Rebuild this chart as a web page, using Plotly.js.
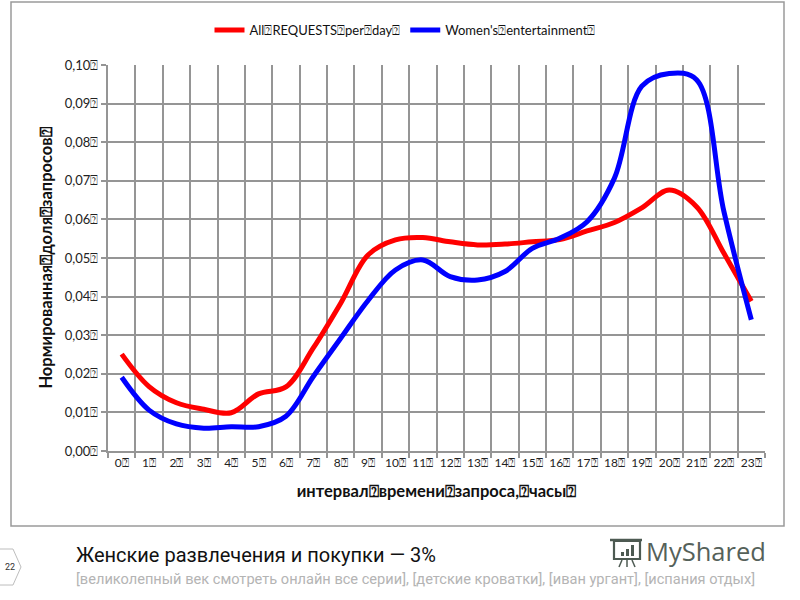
<!DOCTYPE html>
<html>
<head>
<meta charset="utf-8">
<script src="https://cdn.plot.ly/plotly-3.0.1.min.js"></script>
<style>
  html, body { margin: 0; padding: 0; background: #fff; }
  #chart { width: 800px; height: 600px; }
</style>
</head>
<body>
<div id="chart"></div>
<script>
// missing-glyph box as it shows up in the source slide
const Q = "\u2370";

const hours = ["0", "1", "2", "3", "4", "5", "6", "7", "8", "9", "10", "11",
  "12", "13", "14", "15", "16", "17", "18", "19", "20", "21", "22", "23"];
const hourLabels = hours.map((h) => h + Q);

const allRequests = [0.0251, 0.0167, 0.0125, 0.0108, 0.0099, 0.0148, 0.0166, 0.0267,
  0.0383, 0.0508, 0.0547, 0.0553, 0.0542, 0.0534, 0.0536, 0.0542,
  0.0548, 0.0570, 0.0592, 0.0630, 0.0676, 0.0633, 0.0512, 0.0388];

const womenEntertainment = [0.0191, 0.0106, 0.0070, 0.0059, 0.0063, 0.0063, 0.0090, 0.0193,
  0.0292, 0.0390, 0.0469, 0.0495, 0.0452, 0.0443, 0.0465, 0.0525,
  0.0551, 0.0594, 0.0707, 0.0945, 0.0978, 0.0962, 0.0620, 0.0340];

const yTickVals = [0, 0.01, 0.02, 0.03, 0.04, 0.05, 0.06, 0.07, 0.08, 0.09, 0.10];
const yTickText = ["0,00", "0,01", "0,02", "0,03", "0,04", "0,05", "0,06", "0,07", "0,08", "0,09", "0,10"].map((t) => t + Q);

const seriesNames = ["All" + Q + "REQUESTS" + Q + "per" + Q + "day" + Q, "Women's" + Q + "entertainment" + Q];
const xTitle = "интервал" + Q + "времени" + Q + "запроса," + Q + "часы" + Q;
const yTitle = "Нормированная" + Q + "доля" + Q + "запросов" + Q;
const slideTitle = "Женские развлечения и покупки — 3%";
const slideQueries = "[великолепный век смотреть онлайн все серии], [детские кроватки], [иван ургант], [испания отдых]";

// plot area in pixels: x 108..765, y 65..451
const L = 108, R = 765, T = 65, B = 451;
const px = (x) => (x - L) / (R - L);
const py = (y) => (B - y) / (B - T);

const chartFont = "Lato, 'Open Sans', sans-serif";
const narrowFont = "'Liberation Sans Narrow', Roboto, sans-serif";
const gridColor = "#959595";

const traces = [
  {
    x: hourLabels, y: allRequests, name: seriesNames[0],
    type: "scatter", mode: "lines",
    line: { color: "#ff0000", width: 5, shape: "spline", smoothing: 1 },
  },
  {
    x: hourLabels, y: womenEntertainment, name: seriesNames[1],
    type: "scatter", mode: "lines",
    line: { color: "#0000ff", width: 5, shape: "spline", smoothing: 1 },
  },
];

function chevronPath() {
  const pts = [[0, 549], [13, 549], [21, 567], [13, 585], [0, 585]];
  return "M" + pts.map(([x, y]) => px(x).toFixed(4) + "," + py(y).toFixed(4)).join(" L");
}

const shapes = [
  // slide frame around the chart
  { type: "rect", xref: "paper", yref: "paper", x0: px(11), x1: px(784), y0: py(2), y1: py(526),
    line: { color: "#9a9a9a", width: 1.5 }, layer: "below" },
  { type: "path", xref: "paper", yref: "paper", path: chevronPath(),
    line: { color: "#bdbdbd", width: 1 } },
  // MyShared logo pictogram
  { type: "rect", xref: "paper", yref: "paper", x0: px(614), x1: px(640), y0: py(541), y1: py(559),
    line: { color: "#4d5a52", width: 2.2 } },
  { type: "line", xref: "paper", yref: "paper", x0: px(610), x1: px(642), y0: py(540), y1: py(540),
    line: { color: "#4d5a52", width: 2.5 } },
  { type: "rect", xref: "paper", yref: "paper", x0: px(621), x1: px(624), y0: py(552), y1: py(556),
    fillcolor: "#4d5a52", line: { width: 0 } },
  { type: "rect", xref: "paper", yref: "paper", x0: px(626), x1: px(629), y0: py(549), y1: py(556),
    fillcolor: "#4d5a52", line: { width: 0 } },
  { type: "rect", xref: "paper", yref: "paper", x0: px(631), x1: px(634), y0: py(545), y1: py(556),
    fillcolor: "#4d5a52", line: { width: 0 } },
  { type: "line", xref: "paper", yref: "paper", x0: px(622), x1: px(619), y0: py(560), y1: py(567),
    line: { color: "#4d5a52", width: 1.5 } },
  { type: "line", xref: "paper", yref: "paper", x0: px(627), x1: px(627), y0: py(560), y1: py(567),
    line: { color: "#4d5a52", width: 1.5 } },
  { type: "line", xref: "paper", yref: "paper", x0: px(632), x1: px(635), y0: py(560), y1: py(567),
    line: { color: "#4d5a52", width: 1.5 } },
];

const annotations = [
  { text: slideTitle, xref: "paper", yref: "paper", x: px(74), y: py(555),
    xanchor: "left", yanchor: "middle", showarrow: false,
    font: { family: narrowFont, size: 20, color: "#111" } },
  { text: slideQueries, xref: "paper", yref: "paper", x: px(74), y: py(579),
    xanchor: "left", yanchor: "middle", showarrow: false,
    font: { family: narrowFont, size: 14.6, color: "#b4b4b4" } },
  { text: "22", xref: "paper", yref: "paper", x: px(10), y: py(567),
    xanchor: "center", yanchor: "middle", showarrow: false,
    font: { family: narrowFont, size: 9, color: "#333" } },
  { text: "MyShared", xref: "paper", yref: "paper", x: px(644), y: py(551),
    xanchor: "left", yanchor: "middle", showarrow: false,
    font: { family: "'Open Sans', sans-serif", size: 25.5, color: "#55615a" } },
];

const layout = {
  width: 800,
  height: 600,
  margin: { l: L, r: 800 - R, t: T, b: 600 - B },
  paper_bgcolor: "#fff",
  plot_bgcolor: "#fff",
  font: { family: chartFont, size: 13, color: "#222" },
  showlegend: true,
  legend: {
    orientation: "h", x: px(405), xanchor: "center", y: py(30), yanchor: "middle",
    font: { family: chartFont, size: 13, color: "#111" },
    itemwidth: 30, tracegroupgap: 0,
  },
  xaxis: {
    type: "category",
    range: [-0.5, 23.5],
    tickson: "boundaries",
    tickangle: 0,
    ticks: "outside", ticklen: 5, tickcolor: gridColor, tickwidth: 2,
    showgrid: true, gridcolor: gridColor, gridwidth: 2,
    showline: true, linecolor: gridColor, linewidth: 2,
    zeroline: false,
    tickfont: { family: chartFont, size: 12, color: "#222" },
    title: { text: xTitle, standoff: 16, font: { family: chartFont, size: 16.5, color: "#111", weight: "bold" } },
  },
  yaxis: {
    range: [0, 0.1],
    tickvals: yTickVals, ticktext: yTickText,
    ticks: "outside", ticklen: 5, tickcolor: gridColor, tickwidth: 2,
    showgrid: true, gridcolor: gridColor, gridwidth: 2,
    showline: true, linecolor: gridColor, linewidth: 2,
    zeroline: false,
    tickfont: { family: chartFont, size: 13, color: "#222" },
    title: { text: yTitle, standoff: 8, font: { family: chartFont, size: 16.5, color: "#111", weight: "bold" } },
  },
  shapes,
  annotations,
};

Plotly.newPlot("chart", traces, layout, { displayModeBar: false, staticPlot: true });
</script>
</body>
</html>
